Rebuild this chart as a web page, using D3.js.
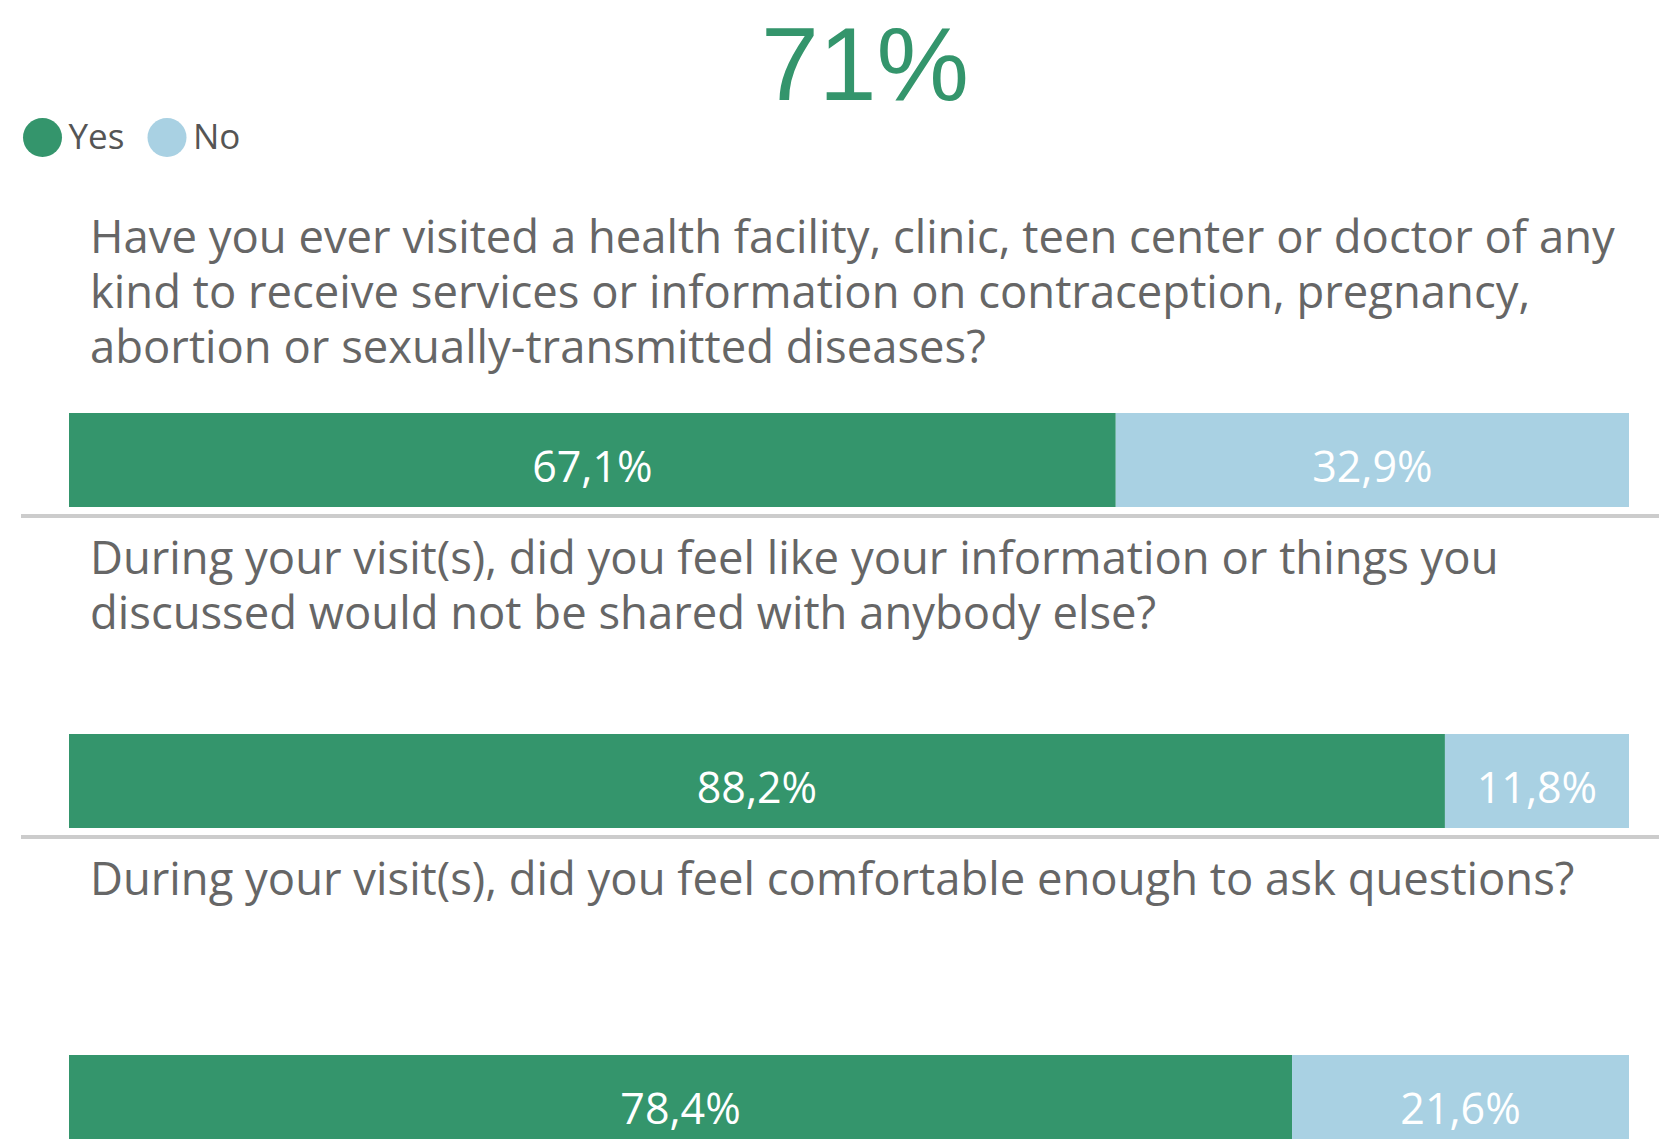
<!DOCTYPE html>
<html>
<head>
<meta charset="utf-8">
<script src="https://cdn.jsdelivr.net/npm/d3@7"></script>
<style>
  html, body { margin: 0; padding: 0; background: #ffffff; }
  svg { display: block; }
</style>
</head>
<body>
<svg id="chart" width="1659" height="1139"></svg>
<script>
// Survey answers: share of respondents answering Yes / No per question
const headline = "71%";
const seriesNames = ["Yes", "No"];
const questions = [
  ["Have you ever visited a health facility, clinic, teen center or doctor of any",
   "kind to receive services or information on contraception, pregnancy,",
   "abortion or sexually-transmitted diseases?"],
  ["During your visit(s), did you feel like your information or things you",
   "discussed would not be shared with anybody else?"],
  ["During your visit(s), did you feel comfortable enough to ask questions?"]
];
const yesValues = [67.1, 88.2, 78.4];
const noValues = [32.9, 11.8, 21.6];

const colors = { Yes: "#34956c", No: "#a9d1e3" };
const textFont = "'Segoe UI', 'Open Sans', 'Noto Sans', sans-serif";

const svg = d3.select("#chart");

const rows = questions.map((q, i) => ({ index: i, Yes: yesValues[i], No: noValues[i] }));
const stacked = d3.stack().keys(seriesNames)(rows);

// Horizontal value scale for the 100% bars
const x = d3.scaleLinear().domain([0, 100]).range([69, 1629]);
// Each question occupies one panel stacked vertically
const panel = d3.scaleBand().domain(d3.range(questions.length)).range([0, 963]);

const fmt = d3.formatLocale({ decimal: ",", thousands: ".", grouping: [3], currency: ["", ""] }).format(".1f");

// Headline value
svg.append("text")
  .attr("x", 865).attr("y", 100)
  .attr("text-anchor", "middle")
  .attr("font-family", "'Liberation Sans', Arial, sans-serif")
  .attr("font-size", 104)
  .attr("fill", colors.Yes)
  .text(headline);

// Legend
const legend = svg.append("g");
const legendX = [42.5, 167];
seriesNames.forEach((name, i) => {
  legend.append("circle")
    .attr("cx", legendX[i]).attr("cy", 137.5).attr("r", 19.5)
    .attr("fill", colors[name]);
  legend.append("text")
    .attr("x", legendX[i] + 26).attr("y", 149)
    .attr("font-family", textFont)
    .attr("font-size", 35)
    .attr("fill", "#555555")
    .text(name);
});

// Panels
const panels = svg.selectAll("g.panel")
  .data(rows)
  .join("g")
  .attr("class", "panel")
  .attr("transform", d => `translate(0,${panel(d.index)})`);

// Separator under each bar
panels.append("rect")
  .attr("x", 21).attr("y", 514)
  .attr("width", 1659 - 21).attr("height", 4)
  .attr("fill", "#cccccc");

// Question text
const qText = panels.append("text")
  .attr("font-family", textFont)
  .attr("font-size", 40)
  .attr("fill", "#666666");
qText.selectAll("tspan")
  .data(d => questions[d.index])
  .join("tspan")
  .attr("x", 90)
  .attr("y", (d, i) => 253 + i * 55)
  .text(d => d);

// Fit question font so the longest line spans the text column
const firstLine = qText.filter(d => d.index === 0).select("tspan").node();
const measured = firstLine.getComputedTextLength();
const fitted = 40 * 1525 / measured;
qText.attr("font-size", fitted);

// Stacked bar segments
const barTop = 413;
const barH = 94;
stacked.forEach(series => {
  const key = series.key;
  panels.append("rect")
    .datum((d) => series[d.index])
    .attr("x", s => x(s[0]))
    .attr("y", barTop)
    .attr("width", s => x(s[1]) - x(s[0]))
    .attr("height", barH)
    .attr("fill", colors[key]);
  panels.append("text")
    .datum((d) => series[d.index])
    .attr("x", s => (x(s[0]) + x(s[1])) / 2)
    .attr("y", barTop + 69)
    .attr("text-anchor", "middle")
    .attr("font-family", textFont)
    .attr("font-size", 43)
    .attr("fill", "#ffffff")
    .text(s => fmt(s[1] - s[0]) + "%");
});
</script>
</body>
</html>
